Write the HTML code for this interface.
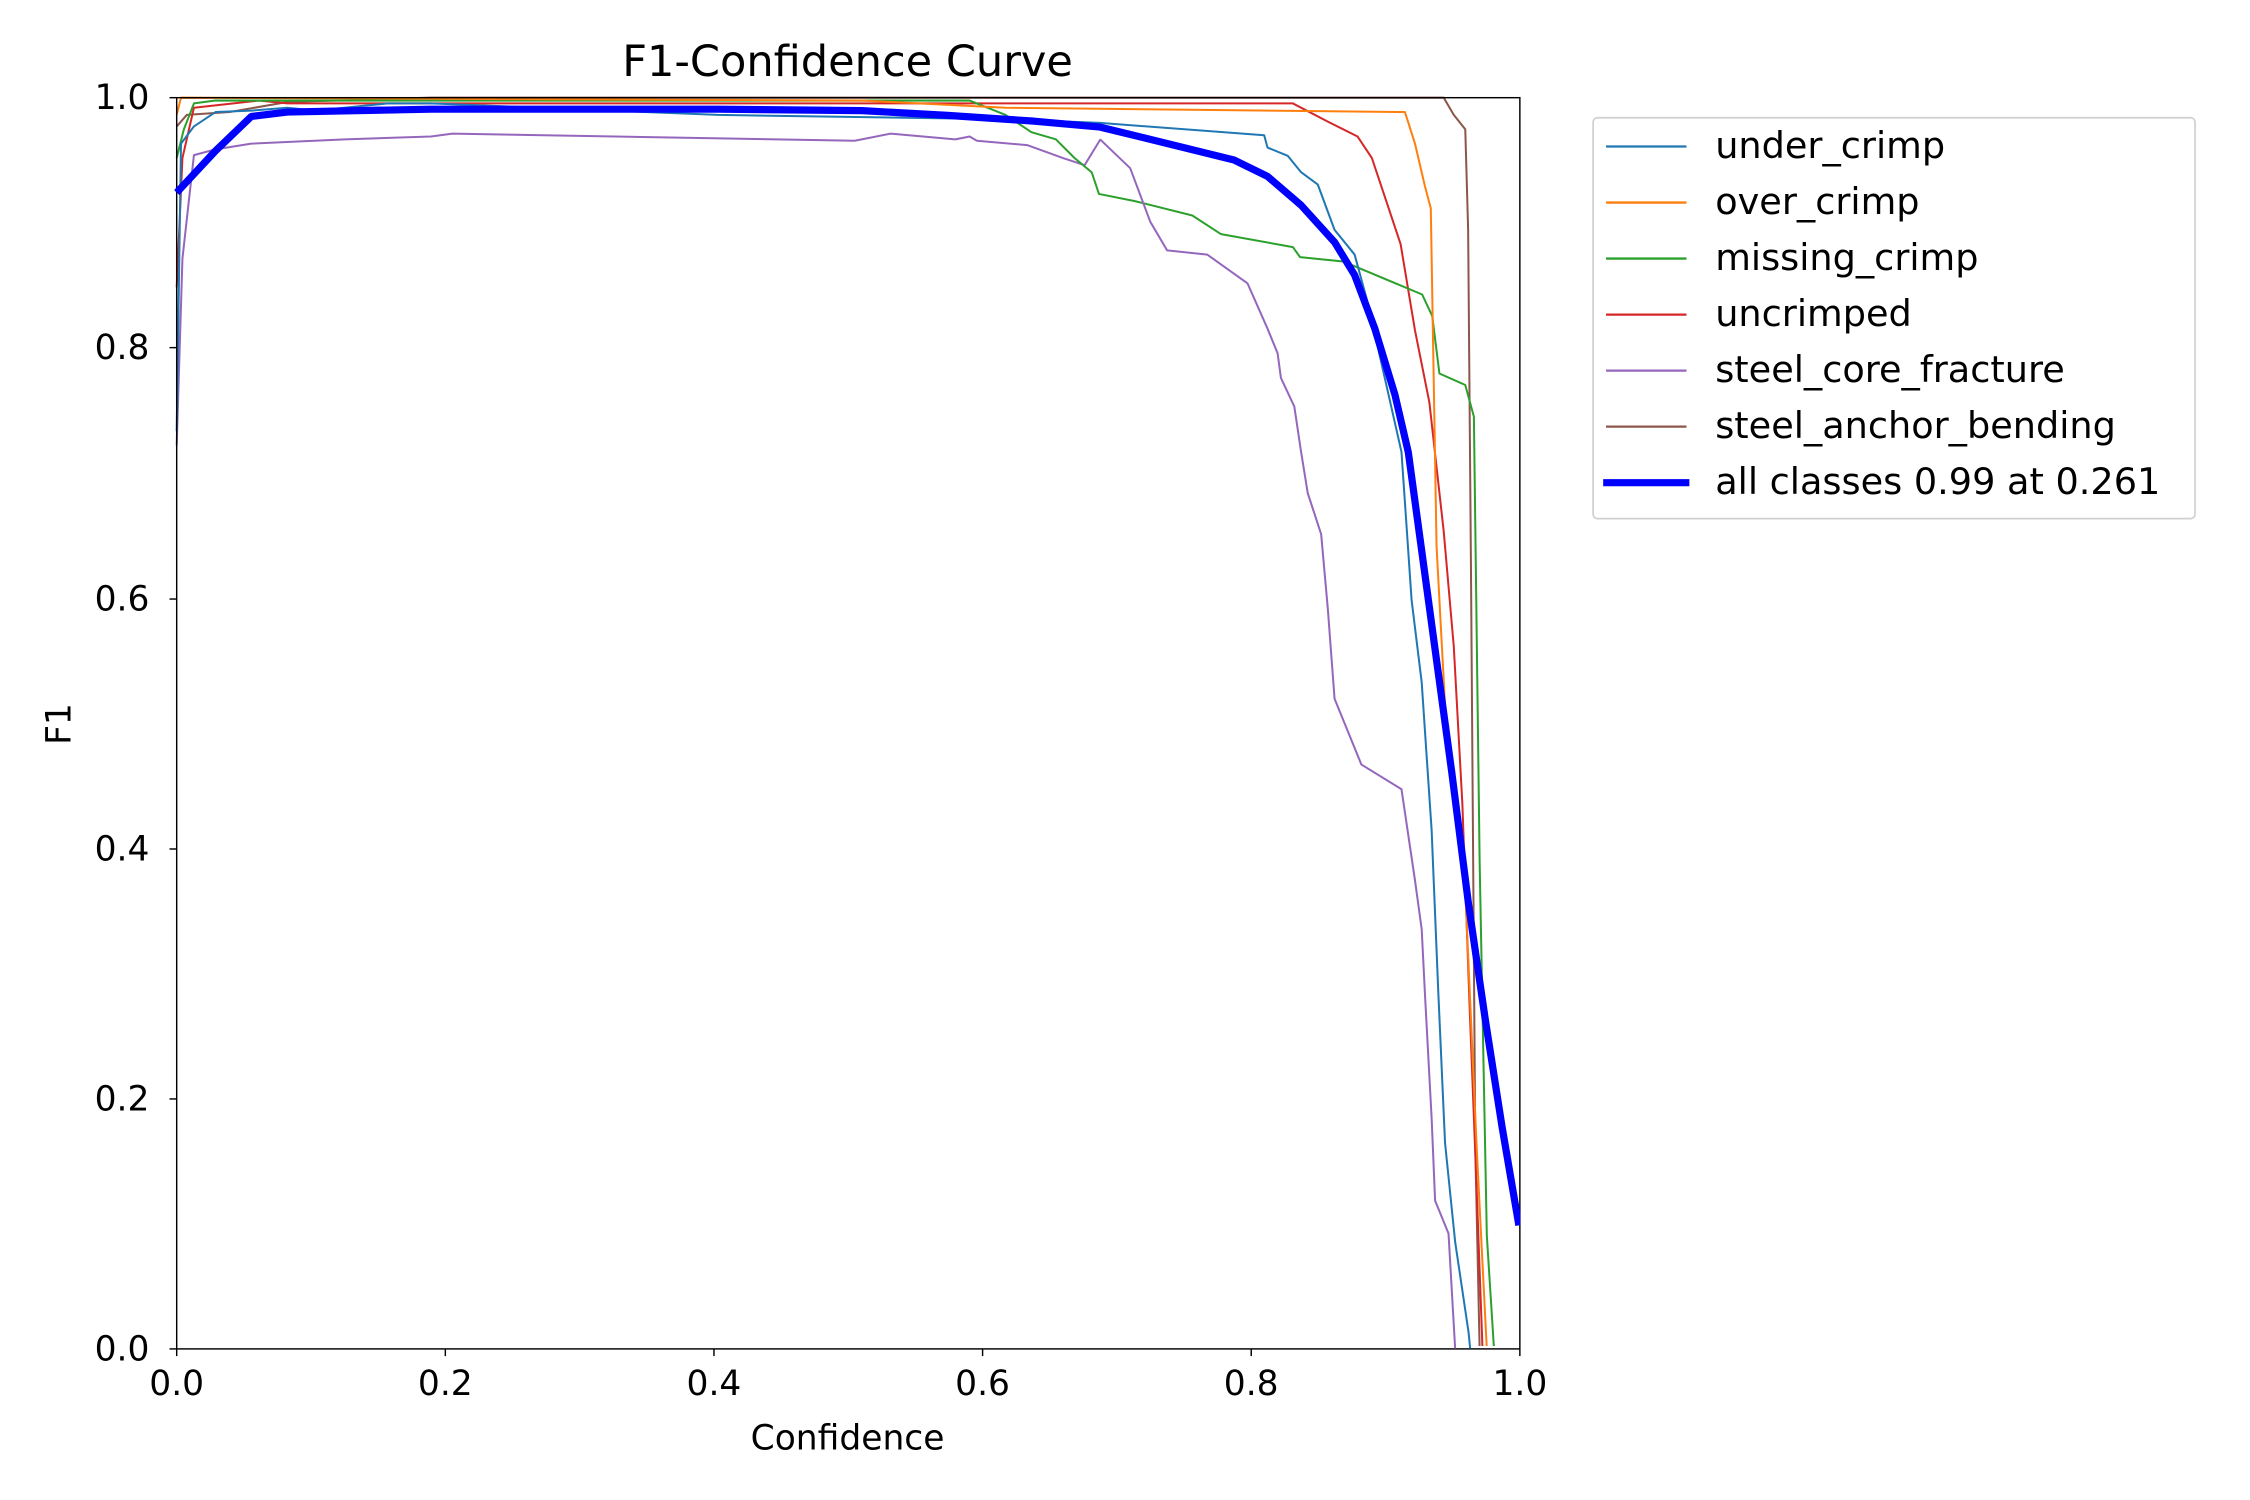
<!DOCTYPE html>
<html><head><meta charset="utf-8"><style>html,body{margin:0;padding:0;background:#fff}svg{display:block}</style></head>
<body>
<svg width="2250" height="1500" viewBox="0 0 1560 1040" xmlns="http://www.w3.org/2000/svg" font-family="'DejaVu Sans','Liberation Sans',sans-serif">
<rect width="1560" height="1040" fill="#fff"/>
<defs><clipPath id="c"><rect x="121" y="66" width="934" height="871"/></clipPath></defs>
<g transform="scale(0.996)">
<g clip-path="url(#c)" fill="none" stroke-linejoin="round" stroke-width="1.4">
<polyline stroke="#8c564b" points="123,88 130,80 160,78 200,71 300,68 1005,68 1012,80 1020,90 1022,160 1024,400 1027,800 1030,939 1058,939"/>
<polyline stroke="#9467bd" points="123,310 127,180 135,108 150,104 175,100 240,97 300,95 315,93 595,98 620,93 665,97 675,95 680,98 715,101 740,110 755,115 766,97"/>
<polyline stroke="#d62728" points="123,200 127,110 135,75 180,70 200,72 900,72 925,85 945,95 955,110 965,140 975,170 985,230 995,280 1005,370 1012,450 1018,560 1023,700 1028,830 1032,939 1058,939"/>
<polyline stroke="#2ca02c" points="123,110 128,90 135,72 150,70 675,70 700,80 718,92 735,97 748,110 760,120 765,135 790,140 830,150 850,163 900,172 905,179 935,182 990,205 997,220 1002,260 1020,268 1026,290 1030,600 1035,860 1040,939 1058,939"/>
<polyline stroke="#ff7f0e" points="123,80 126,68 600,70 700,75 978,78 985,100 992,130 996,145 1000,380 1008,530 1015,580 1020,620 1028,800 1035,939 1058,939"/>
<polyline stroke="#1f77b4" points="123,300 126,100 135,88 150,78 175,77 200,75 220,77 250,74 270,72 300,72 500,80 700,83 766,85.5"/>
</g>
<rect x="123" y="68" width="935" height="871" fill="none" stroke="#000" stroke-width="1"/>
<g stroke="#000" stroke-width="1">
<line x1="123" y1="939" x2="123" y2="944"/><line x1="310" y1="939" x2="310" y2="944"/><line x1="497" y1="939" x2="497" y2="944"/><line x1="684" y1="939" x2="684" y2="944"/><line x1="871" y1="939" x2="871" y2="944"/><line x1="1058" y1="939" x2="1058" y2="944"/>
<line x1="118" y1="939" x2="123" y2="939"/><line x1="118" y1="765" x2="123" y2="765"/><line x1="118" y1="591" x2="123" y2="591"/><line x1="118" y1="417" x2="123" y2="417"/><line x1="118" y1="242" x2="123" y2="242"/><line x1="118" y1="68" x2="123" y2="68"/>
</g>
<g font-size="24" fill="#000" text-anchor="middle">
<text x="123" y="971">0.0</text><text x="310" y="971">0.2</text><text x="497" y="971">0.4</text><text x="684" y="971">0.6</text><text x="871" y="971">0.8</text><text x="1058" y="971">1.0</text>
<text x="590" y="1009">Confidence</text>
<text x="590" y="53" font-size="30">F1-Confidence Curve</text>
</g>
<g font-size="24" fill="#000" text-anchor="end">
<text x="104" y="947">0.0</text><text x="104" y="773">0.2</text><text x="104" y="599">0.4</text><text x="104" y="425">0.6</text><text x="104" y="250">0.8</text><text x="104" y="76">1.0</text>
</g>
<text transform="translate(49,504) rotate(-90)" font-size="24" text-anchor="middle">F1</text>
<rect x="1109" y="82" width="419" height="279" rx="3" fill="#fff" stroke="#d0d0d0" stroke-width="1.2"/>
<g stroke-width="1.6">
<line x1="1118" y1="102" x2="1174" y2="102" stroke="#1f77b4"/>
<line x1="1118" y1="141" x2="1174" y2="141" stroke="#ff7f0e"/>
<line x1="1118" y1="180" x2="1174" y2="180" stroke="#2ca02c"/>
<line x1="1118" y1="219" x2="1174" y2="219" stroke="#d62728"/>
<line x1="1118" y1="258" x2="1174" y2="258" stroke="#9467bd"/>
<line x1="1118" y1="297" x2="1174" y2="297" stroke="#8c564b"/>
<line x1="1116" y1="336" x2="1176" y2="336" stroke="#0000ff" stroke-width="5"/>
</g>
<g font-size="25.5" fill="#000">
<text x="1194" y="110">under_crimp</text>
<text x="1194" y="149">over_crimp</text>
<text x="1194" y="188">missing_crimp</text>
<text x="1194" y="227">uncrimped</text>
<text x="1194" y="266">steel_core_fracture</text>
<text x="1194" y="305">steel_anchor_bending</text>
<text x="1194" y="344">all classes 0.99 at 0.261</text>
</g>
</g>
<defs><clipPath id="c2"><rect x="121" y="66" width="933" height="870"/></clipPath></defs>
<g clip-path="url(#c2)" fill="none" stroke-linejoin="round" stroke-width="1.4">
<polyline stroke="#9467bd" points="762.7,96.6 783.6,116.6 797.5,153.7 809.2,173.6 837,176.5 864.9,196.4 878.8,227.8 885.8,244.9 888.1,262 897.4,281.9 902.1,313.4 906.7,341.9 916,370.4 920.6,421.8 925.3,484.5 943.9,530.1 971.7,547.2 981,610 985.7,644.2 988,689.8 992.6,775.4 995,832.4 1004.3,855.2 1008.9,935"/>
<polyline stroke="#1f77b4" points="762.7,85.2 876.5,93.8 878.8,102.3 892.8,108 902.1,119.4 913.7,128 925.3,159.4 939.2,176.5 948.5,210.7 960.1,262 971.7,313.4 978.7,416 985.7,473 992.6,575.7 997.3,689.8 1001.9,792.5 1008.9,861 1018.2,923.7 1019.3,935"/>
<polyline stroke="#0000ff" stroke-width="5" points="122.5,133.5 149.4,104.6 174.3,80.7 199.2,77.7 298.8,75.7 498,75.7 597.6,76.7 657,80 717,84 762.7,88.1 809.2,99.5 855.6,110.9 878.8,122.3 902.1,142.3 925.3,167.9 939.2,190.7 953.2,227.8 967.1,273.5 976.4,313.4 985.7,381.8 995,450.3 1006.6,535.8 1018.2,627.1 1029.8,706.9 1041.4,781.1 1053.1,849.6"/>
</g>
</svg>
</body></html>
